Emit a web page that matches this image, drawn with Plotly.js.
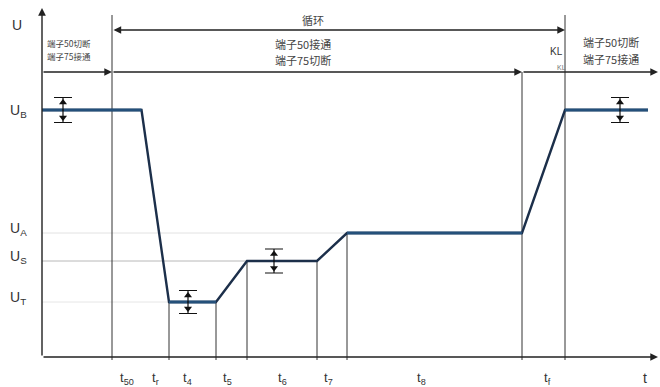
<!DOCTYPE html>
<html><head><meta charset="utf-8">
<script src="https://cdn.plot.ly/plotly-3.0.1.min.js"></script>
<style>html,body{margin:0;padding:0;background:#fff}#c{width:660px;height:387px}</style>
</head><body><div id="c"></div>
<script>
// voltage levels (arbitrary units)
const UB = 247, UA = 124, US = 96, UT = 55;
const levelNames = ['U<sub>B</sub>', 'U<sub>A</sub>', 'U<sub>S</sub>', 'U<sub>T</sub>'];
const levelValues = [UB, UA, US, UT];
// time boundaries (arbitrary units)
const edges = [70, 127, 174, 205, 275, 305, 480, 523];
const edgeTops = [342, UT, UT, US, US, UA, 285, 342];
const timeLabels = ['t<sub>50</sub>', 't<sub>r</sub>', 't<sub>4</sub>', 't<sub>5</sub>', 't<sub>6</sub>', 't<sub>7</sub>', 't<sub>8</sub>', 't<sub>f</sub>', 't'];
const timeLabelPos = [85, 113, 145, 185, 240, 286, 379, 505, 603];
// test pulse curve
const curveT = [0, 99.5, 127, 174, 205, 275, 305, 480, 523, 606];
const curveU = [UB, UB, UT, UT, US, US, UA, UA, UB, UB];
// tolerance markers
const tolT = [21, 146, 232, 578];
const tolU = [UB, UT, US, UB];
const tolHalf = [12.5, 11.5, 12, 12.5];
// grid guide lines (end time per level)
const guideEnd = [305, 205, 127];
const guideLevel = [UA, US, UT];
const guideColor = ['#e2e2e2', '#b8b8b8', '#e6e6e6'];

const traces = [];
guideLevel.forEach((lv, i) => traces.push({x: [0, guideEnd[i]], y: [lv, lv], mode: 'lines', line: {color: guideColor[i], width: 1}, hoverinfo: 'skip'}));
const vx = [], vy = [];
edges.forEach((e, i) => { vx.push(e, e, null); vy.push(-3, edgeTops[i], null); });
traces.push({x: vx, y: vy, mode: 'lines', line: {color: '#333', width: 1}, hoverinfo: 'skip'});
traces.push({x: curveT, y: curveU, mode: 'lines', line: {color: '#1c2f4a', width: 2.4}, hoverinfo: 'skip'});
traces.push({x: [0, 99.5, null, 127, 174, null, 305, 480, null, 523, 606], y: [UB, UB, null, UT, UT, null, UA, UA, null, UB, UB], mode: 'lines', line: {color: '#24507a', width: 3}, hoverinfo: 'skip'});
traces.push({x: tolT, y: tolU, mode: 'markers', marker: {size: 1, color: '#000'},
  error_y: {type: 'data', array: tolHalf, visible: true, color: '#111', thickness: 1.2, width: 9}, hoverinfo: 'skip'});
traces.push({x: tolT, y: tolU.map((u, i) => u + tolHalf[i] - 5), mode: 'markers', marker: {symbol: 'triangle-up', size: 7, color: '#111'}, hoverinfo: 'skip'});
traces.push({x: tolT, y: tolU.map((u, i) => u - tolHalf[i] + 5), mode: 'markers', marker: {symbol: 'triangle-down', size: 7, color: '#111'}, hoverinfo: 'skip'});

function arrow(x0, y0, x1, y1, both) {
  return {x: x1, y: y1, ax: x0, ay: y0, xref: 'x', yref: 'y', axref: 'x', ayref: 'y', text: '', showarrow: true,
    arrowhead: 2, arrowsize: 1.1, arrowwidth: 1.4, arrowcolor: '#222', arrowside: both ? 'end+start' : 'end', startarrowhead: 2, startarrowsize: 1.1};
}
const cjk = 'Noto Sans CJK SC, Noto Sans, sans-serif';
function txt(x, y, t, size, extra) {
  return Object.assign({x: x, y: y, text: t, showarrow: false, font: {family: cjk, size: size, color: '#444'}}, extra || {});
}
const ann = [];
ann.push(arrow(0, 0, 0, 349));
ann.push(arrow(0, 0, 616, 0));
ann.push(arrow(70, 327, 523, 327, true));
ann.push(arrow(0, 285, 70, 285));
ann.push(arrow(70, 285, 480, 285));
ann.push(arrow(480, 285, 616, 285));
ann.push(txt(271, 337, '循环', 11));
ann.push(txt(261, 313, '端子50接通', 11));
ann.push(txt(261, 297, '端子75切断', 11));
ann.push(txt(3, 314, '端子50切断', 8.5, {xanchor: 'left'}));
ann.push(txt(3, 301, '端子75接通', 8.5, {xanchor: 'left'}));
ann.push(txt(569, 315, '端子50切断', 11));
ann.push(txt(569, 298, '端子75接通', 11));
ann.push({x: 514, y: 306, text: 'KL', showarrow: false, font: {family: 'Liberation Sans', size: 10, color: '#333'}});
ann.push({x: 519, y: 290, text: 'KL', showarrow: false, font: {family: 'Liberation Sans', size: 7, color: '#777'}});
ann.push({x: -25, y: 332, text: 'U', showarrow: false, font: {family: 'Liberation Sans', size: 14, color: '#333'}});
levelNames.forEach((n, i) => ann.push({x: -24, y: levelValues[i] + (i === 0 ? -1 : 4), text: n, showarrow: false, font: {family: 'Liberation Sans', size: 14, color: '#333'}}));
timeLabels.forEach((n, i) => ann.push({x: timeLabelPos[i], y: -21, text: n, showarrow: false, font: {family: 'Liberation Sans', size: i === 8 ? 14 : 13, color: '#333'}}));

const layout = {
  width: 660, height: 387, margin: {l: 0, r: 0, t: 0, b: 0}, showlegend: false,
  paper_bgcolor: '#fff', plot_bgcolor: '#fff',
  xaxis: {range: [-42, 618], visible: false, fixedrange: true},
  yaxis: {range: [-30, 357], visible: false, fixedrange: true},
  annotations: ann
};
Plotly.newPlot('c', traces, layout, {staticPlot: true});
</script></body></html>
